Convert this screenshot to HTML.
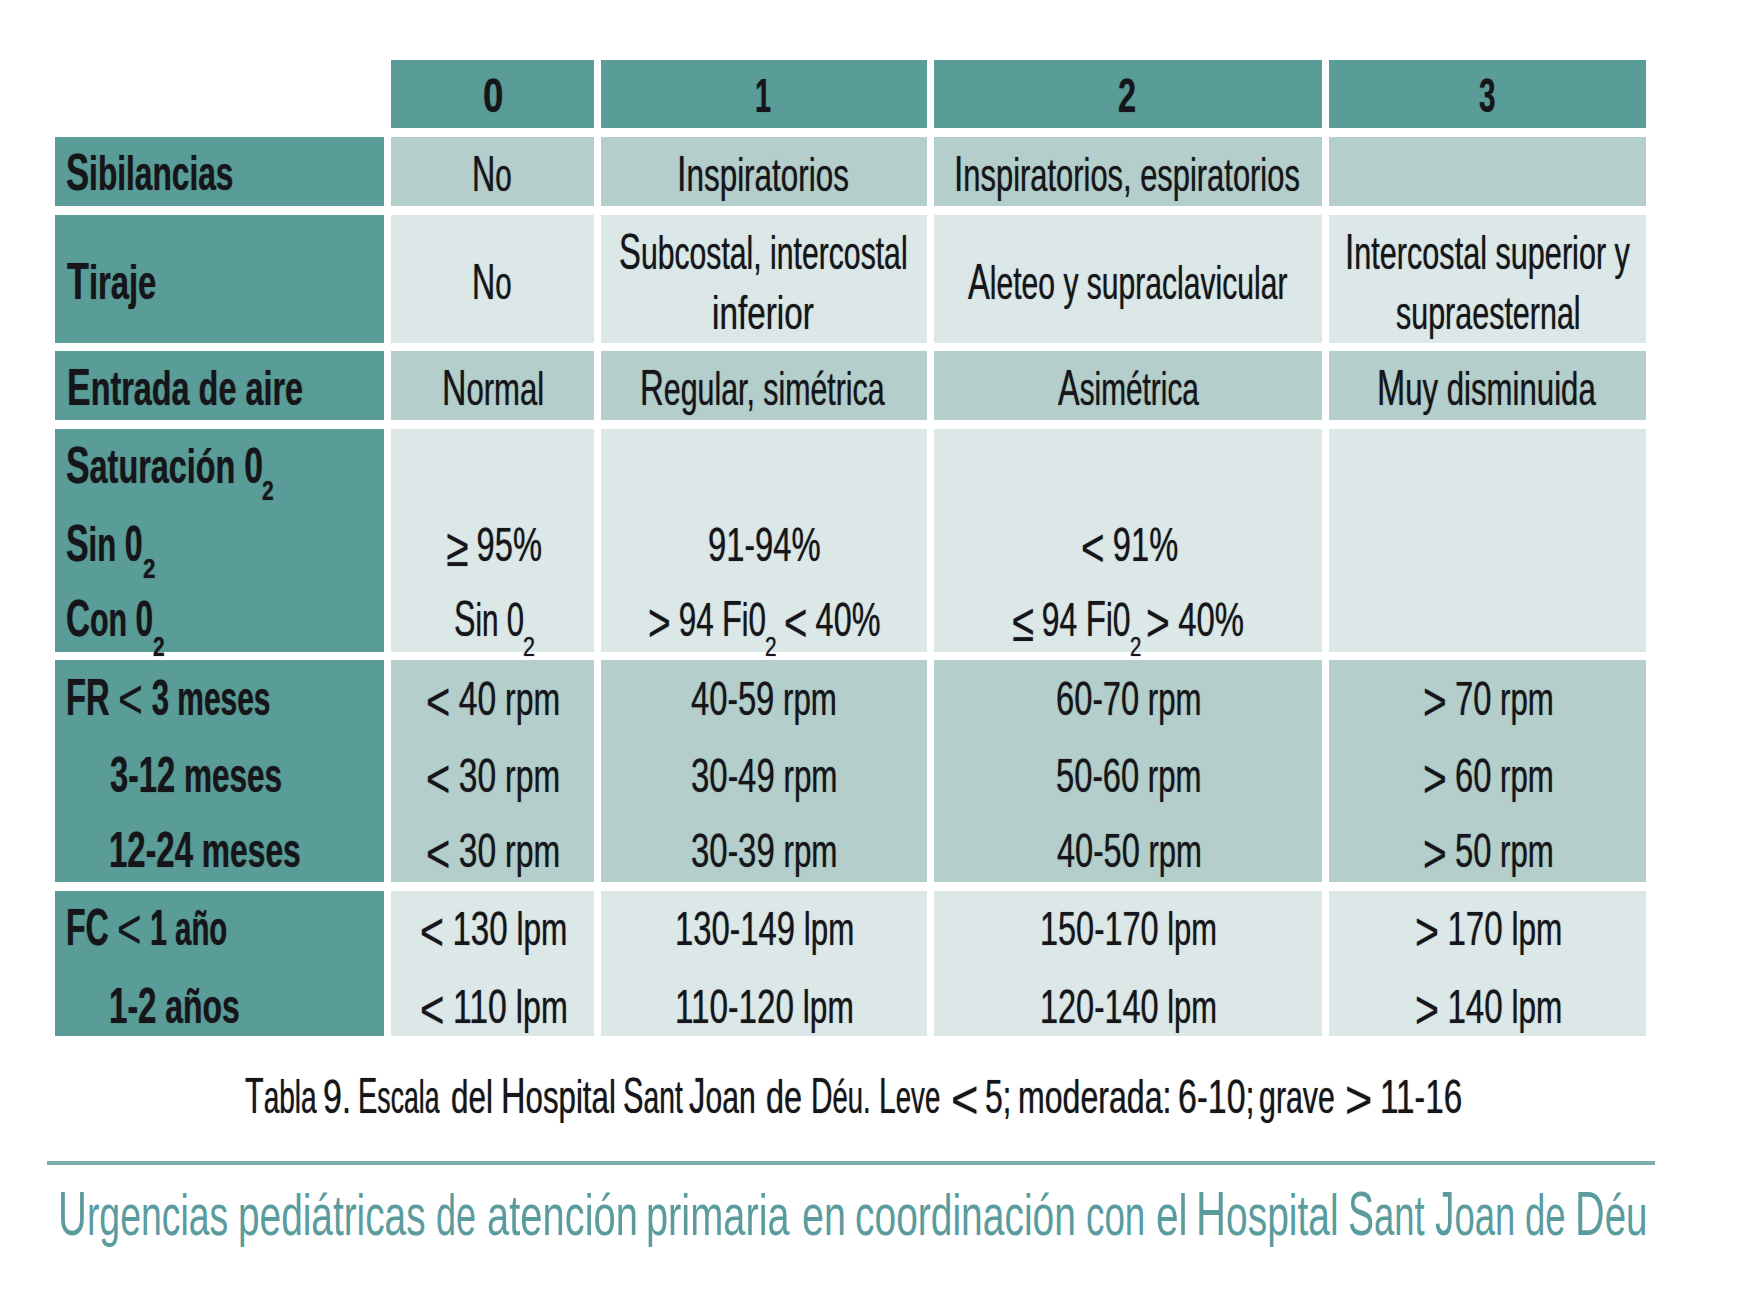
<!DOCTYPE html>
<html lang="es">
<head>
<meta charset="utf-8">
<title>Tabla 9. Escala del Hospital Sant Joan de Déu</title>
<style>
html,body{margin:0;padding:0;background:#fff;}
body{position:relative;overflow:hidden;font-family:"Liberation Sans",sans-serif;color:#15151a;}
.c{position:absolute;}
main,section,footer,p{margin:0;padding:0;display:block;position:static;}
.t{position:absolute;white-space:pre;transform-origin:0 0;line-height:60px;display:block;}
.u{font-size:1.088em;}
.d{font-size:1.05em;}
.s{display:inline-block;font-size:1.16em;transform:scaleX(1.12);margin:0 .03em;vertical-align:-0.084em;line-height:1;}
.b .u{font-size:1.094em;}
.b .d{font-size:1.04em;}
.b .s{font-weight:400;font-size:1.17em;transform:scaleX(1.22);margin:0 .07em;vertical-align:-0.05em;}
.t{text-shadow:0 0 1.3px rgba(21,21,26,.6);}
.foot{text-shadow:none;}
.foot .u{font-size:1.07em;}
.r{font-weight:400;font-size:46.3px;}
.b{font-weight:700;font-size:47.5px;}
.h{font-weight:700;font-size:47.6px;}
.rs{font-weight:400;font-size:28px;}
.bs{font-weight:700;font-size:28px;}
.cap{font-weight:400;font-size:46.3px;}
.foot{font-weight:400;font-size:58px;color:#5a9c9e;}
body{width:1742px;height:1308px;}
.rule{position:absolute;left:47.3px;top:1160.7px;width:1608.0px;height:4.2px;background:#7dadaa;}

</style>
</head>
<body>
<main>
<section class="tbl">
<div class="c" style="left:391.2px;top:60px;width:203.1px;height:67.7px;background:#5a9d98"></div>
<div class="c" style="left:601px;top:60px;width:326px;height:67.7px;background:#5a9d98"></div>
<div class="c" style="left:934.3px;top:60px;width:387.7px;height:67.7px;background:#5a9d98"></div>
<div class="c" style="left:1329.3px;top:60px;width:317.0px;height:67.7px;background:#5a9d98"></div>
<div class="c" style="left:55px;top:137.2px;width:329px;height:68.8px;background:#5a9d98"></div>
<div class="c" style="left:391.2px;top:137.2px;width:203.1px;height:68.8px;background:#b4cecb"></div>
<div class="c" style="left:601px;top:137.2px;width:326px;height:68.8px;background:#b4cecb"></div>
<div class="c" style="left:934.3px;top:137.2px;width:387.7px;height:68.8px;background:#b4cecb"></div>
<div class="c" style="left:1329.3px;top:137.2px;width:317.0px;height:68.8px;background:#b4cecb"></div>
<div class="c" style="left:55px;top:215px;width:329px;height:127.7px;background:#5a9d98"></div>
<div class="c" style="left:391.2px;top:215px;width:203.1px;height:127.7px;background:#dce8e7"></div>
<div class="c" style="left:601px;top:215px;width:326px;height:127.7px;background:#dce8e7"></div>
<div class="c" style="left:934.3px;top:215px;width:387.7px;height:127.7px;background:#dce8e7"></div>
<div class="c" style="left:1329.3px;top:215px;width:317.0px;height:127.7px;background:#dce8e7"></div>
<div class="c" style="left:55px;top:351px;width:329px;height:69px;background:#5a9d98"></div>
<div class="c" style="left:391.2px;top:351px;width:203.1px;height:69px;background:#b4cecb"></div>
<div class="c" style="left:601px;top:351px;width:326px;height:69px;background:#b4cecb"></div>
<div class="c" style="left:934.3px;top:351px;width:387.7px;height:69px;background:#b4cecb"></div>
<div class="c" style="left:1329.3px;top:351px;width:317.0px;height:69px;background:#b4cecb"></div>
<div class="c" style="left:55px;top:428.7px;width:329px;height:223.3px;background:#5a9d98"></div>
<div class="c" style="left:391.2px;top:428.7px;width:203.1px;height:223.3px;background:#dce8e7"></div>
<div class="c" style="left:601px;top:428.7px;width:326px;height:223.3px;background:#dce8e7"></div>
<div class="c" style="left:934.3px;top:428.7px;width:387.7px;height:223.3px;background:#dce8e7"></div>
<div class="c" style="left:1329.3px;top:428.7px;width:317.0px;height:223.3px;background:#dce8e7"></div>
<div class="c" style="left:55px;top:660px;width:329px;height:221.7px;background:#5a9d98"></div>
<div class="c" style="left:391.2px;top:660px;width:203.1px;height:221.7px;background:#b4cecb"></div>
<div class="c" style="left:601px;top:660px;width:326px;height:221.7px;background:#b4cecb"></div>
<div class="c" style="left:934.3px;top:660px;width:387.7px;height:221.7px;background:#b4cecb"></div>
<div class="c" style="left:1329.3px;top:660px;width:317.0px;height:221.7px;background:#b4cecb"></div>
<div class="c" style="left:55px;top:891px;width:329px;height:144.7px;background:#5a9d98"></div>
<div class="c" style="left:391.2px;top:891px;width:203.1px;height:144.7px;background:#dce8e7"></div>
<div class="c" style="left:601px;top:891px;width:326px;height:144.7px;background:#dce8e7"></div>
<div class="c" style="left:934.3px;top:891px;width:387.7px;height:144.7px;background:#dce8e7"></div>
<div class="c" style="left:1329.3px;top:891px;width:317.0px;height:144.7px;background:#dce8e7"></div>
<span class="t h" style="left:482.76px;top:66.00px;transform:scaleX(0.7696)">0</span>
<span class="t h" style="left:754.89px;top:66.00px;transform:scaleX(0.6045)">1</span>
<span class="t h" style="left:1117.93px;top:66.00px;transform:scaleX(0.6826)">2</span>
<span class="t h" style="left:1479.38px;top:66.00px;transform:scaleX(0.6250)">3</span>
<span class="t b" style="left:65.97px;top:142.00px;transform:scaleX(0.6668)"><span class="u">S</span>ibilancias</span>
<span class="t b" style="left:66.80px;top:251.00px;transform:scaleX(0.6891)"><span class="u">T</span>iraje</span>
<span class="t b" style="left:66.55px;top:357.00px;transform:scaleX(0.6819)"><span class="u">E</span>ntrada de aire</span>
<span class="t b" style="left:65.94px;top:435.00px;transform:scaleX(0.6814)"><span class="u">S</span>aturación <span class="d">0</span></span>
<span class="t bs" style="left:261.95px;top:461.00px;transform:scaleX(0.7500)">2</span>
<span class="t b" style="left:65.99px;top:513.00px;transform:scaleX(0.6526)"><span class="u">S</span>in <span class="d">0</span></span>
<span class="t bs" style="left:143.00px;top:539.00px;transform:scaleX(0.8000)">2</span>
<span class="t b" style="left:66.02px;top:588.00px;transform:scaleX(0.6394)"><span class="u">C</span>on <span class="d">0</span></span>
<span class="t bs" style="left:152.75px;top:617.00px;transform:scaleX(0.7500)">2</span>
<span class="t b" style="left:66.41px;top:667.00px;transform:scaleX(0.6303)"><span class="u">FR</span> <span class="s">&lt;</span> <span class="d">3</span> meses</span>
<span class="t b" style="left:109.64px;top:745.00px;transform:scaleX(0.6630)"><span class="d">3</span>-<span class="d">12</span> meses</span>
<span class="t b" style="left:108.89px;top:820.00px;transform:scaleX(0.6684)"><span class="d">12</span>-<span class="d">24</span> meses</span>
<span class="t b" style="left:66.45px;top:897.00px;transform:scaleX(0.6180)"><span class="u">FC</span> <span class="s">&lt;</span> <span class="d">1</span> año</span>
<span class="t b" style="left:108.69px;top:976.00px;transform:scaleX(0.6711)"><span class="d">1</span>-<span class="d">2</span> años</span>
<span class="t r" style="left:472.14px;top:144.00px;transform:scaleX(0.6393)"><span class="u">N</span>o</span>
<span class="t r" style="left:677.31px;top:144.00px;transform:scaleX(0.6785)"><span class="u">I</span>nspiratorios</span>
<span class="t r" style="left:954.36px;top:144.00px;transform:scaleX(0.6672)"><span class="u">I</span>nspiratorios, espiratorios</span>
<span class="t r" style="left:472.45px;top:252.00px;transform:scaleX(0.6375)"><span class="u">N</span>o</span>
<span class="t r" style="left:619.20px;top:222.00px;transform:scaleX(0.6518)"><span class="u">S</span>ubcostal, intercostal</span>
<span class="t r" style="left:712.24px;top:283.00px;transform:scaleX(0.7188)">inferior</span>
<span class="t r" style="left:968.30px;top:252.00px;transform:scaleX(0.6497)"><span class="u">A</span>leteo y supraclavicular</span>
<span class="t r" style="left:1344.99px;top:222.00px;transform:scaleX(0.6613)"><span class="u">I</span>ntercostal superior y</span>
<span class="t r" style="left:1396.04px;top:283.00px;transform:scaleX(0.6581)">supraesternal</span>
<span class="t r" style="left:441.61px;top:358.00px;transform:scaleX(0.6717)"><span class="u">N</span>ormal</span>
<span class="t r" style="left:640.08px;top:358.00px;transform:scaleX(0.6549)"><span class="u">R</span>egular, simétrica</span>
<span class="t r" style="left:1058.30px;top:358.00px;transform:scaleX(0.6438)"><span class="u">A</span>simétrica</span>
<span class="t r" style="left:1377.31px;top:358.00px;transform:scaleX(0.6729)"><span class="u">M</span>uy disminuida</span>
<span class="t r" style="left:445.96px;top:514.00px;transform:scaleX(0.6719)"><span class="s">≥</span> <span class="d">95%</span></span>
<span class="t r" style="left:453.72px;top:589.00px;transform:scaleX(0.6387)"><span class="u">S</span>in <span class="d">0</span></span>
<span class="t rs" style="left:522.53px;top:617.00px;transform:scaleX(0.7692)">2</span>
<span class="t r" style="left:707.95px;top:514.00px;transform:scaleX(0.6748)"><span class="d">91</span>-<span class="d">94%</span></span>
<span class="t r" style="left:648.06px;top:589.00px;transform:scaleX(0.6461)"><span class="s">&gt;</span> <span class="d">94</span> <span class="u">F</span>i<span class="d">0</span></span>
<span class="t rs" style="left:765.25px;top:617.00px;transform:scaleX(0.7462)">2</span>
<span class="t r" style="left:784.00px;top:589.00px;transform:scaleX(0.6664)"><span class="s">&lt;</span> <span class="d">40%</span></span>
<span class="t r" style="left:1080.69px;top:514.00px;transform:scaleX(0.6714)"><span class="s">&lt;</span> <span class="d">91%</span></span>
<span class="t r" style="left:1012.19px;top:589.00px;transform:scaleX(0.6554)"><span class="s">≤</span> <span class="d">94</span> <span class="u">F</span>i<span class="d">0</span></span>
<span class="t rs" style="left:1130.27px;top:617.00px;transform:scaleX(0.7308)">2</span>
<span class="t r" style="left:1146.47px;top:589.00px;transform:scaleX(0.6771)"><span class="s">&gt;</span> <span class="d">40%</span></span>
<span class="t r" style="left:426.23px;top:668.00px;transform:scaleX(0.6915)"><span class="s">&lt;</span> <span class="d">40</span> rpm</span>
<span class="t r" style="left:426.23px;top:745.00px;transform:scaleX(0.6915)"><span class="s">&lt;</span> <span class="d">30</span> rpm</span>
<span class="t r" style="left:426.23px;top:820.00px;transform:scaleX(0.6915)"><span class="s">&lt;</span> <span class="d">30</span> rpm</span>
<span class="t r" style="left:691.33px;top:668.00px;transform:scaleX(0.6745)"><span class="d">40</span>-<span class="d">59</span> rpm</span>
<span class="t r" style="left:690.64px;top:745.00px;transform:scaleX(0.6777)"><span class="d">30</span>-<span class="d">49</span> rpm</span>
<span class="t r" style="left:690.64px;top:820.00px;transform:scaleX(0.6777)"><span class="d">30</span>-<span class="d">39</span> rpm</span>
<span class="t r" style="left:1055.95px;top:668.00px;transform:scaleX(0.6730)"><span class="d">60</span>-<span class="d">70</span> rpm</span>
<span class="t r" style="left:1055.95px;top:745.00px;transform:scaleX(0.6730)"><span class="d">50</span>-<span class="d">60</span> rpm</span>
<span class="t r" style="left:1056.63px;top:820.00px;transform:scaleX(0.6698)"><span class="d">40</span>-<span class="d">50</span> rpm</span>
<span class="t r" style="left:1422.98px;top:668.00px;transform:scaleX(0.6739)"><span class="s">&gt;</span> <span class="d">70</span> rpm</span>
<span class="t r" style="left:1422.98px;top:745.00px;transform:scaleX(0.6739)"><span class="s">&gt;</span> <span class="d">60</span> rpm</span>
<span class="t r" style="left:1422.98px;top:820.00px;transform:scaleX(0.6739)"><span class="s">&gt;</span> <span class="d">50</span> rpm</span>
<span class="t r" style="left:419.65px;top:898.00px;transform:scaleX(0.6824)"><span class="s">&lt;</span> <span class="d">130</span> lpm</span>
<span class="t r" style="left:419.61px;top:976.00px;transform:scaleX(0.6956)"><span class="s">&lt;</span> <span class="d">110</span> lpm</span>
<span class="t r" style="left:674.60px;top:898.00px;transform:scaleX(0.6760)"><span class="d">130</span>-<span class="d">149</span> lpm</span>
<span class="t r" style="left:674.56px;top:976.00px;transform:scaleX(0.6839)"><span class="d">110</span>-<span class="d">120</span> lpm</span>
<span class="t r" style="left:1040.03px;top:898.00px;transform:scaleX(0.6678)"><span class="d">150</span>-<span class="d">170</span> lpm</span>
<span class="t r" style="left:1040.03px;top:976.00px;transform:scaleX(0.6678)"><span class="d">120</span>-<span class="d">140</span> lpm</span>
<span class="t r" style="left:1414.65px;top:898.00px;transform:scaleX(0.6824)"><span class="s">&gt;</span> <span class="d">170</span> lpm</span>
<span class="t r" style="left:1414.65px;top:976.00px;transform:scaleX(0.6824)"><span class="s">&gt;</span> <span class="d">140</span> lpm</span>
</section>
<p class="caption">
<span class="t cap" style="left:244.59px;top:1066.00px;transform:scaleX(0.6060)"><span class="u">T</span>abla </span>
<span class="t cap" style="left:323.40px;top:1066.00px;transform:scaleX(0.7000)"><span class="d">9</span>. </span>
<span class="t cap" style="left:357.62px;top:1066.00px;transform:scaleX(0.5750)"><span class="u">E</span>scala </span>
<span class="t cap" style="left:451.04px;top:1067.00px;transform:scaleX(0.6789)">del </span>
<span class="t cap" style="left:501.40px;top:1066.00px;transform:scaleX(0.6748)"><span class="u">H</span>ospital </span>
<span class="t cap" style="left:622.98px;top:1066.00px;transform:scaleX(0.6104)"><span class="u">S</span>ant </span>
<span class="t cap" style="left:689.35px;top:1066.00px;transform:scaleX(0.6505)"><span class="u">J</span>oan </span>
<span class="t cap" style="left:766.40px;top:1067.00px;transform:scaleX(0.7000)">de </span>
<span class="t cap" style="left:810.63px;top:1066.00px;transform:scaleX(0.5925)"><span class="u">D</span>éu. </span>
<span class="t cap" style="left:879.41px;top:1066.00px;transform:scaleX(0.5969)"><span class="u">L</span>eve </span>
<span class="t cap" style="left:950.74px;top:1067.00px;transform:scaleX(0.7862)"><span class="s">&lt;</span> </span>
<span class="t cap" style="left:985.38px;top:1066.00px;transform:scaleX(0.6588)"><span class="d">5</span>; </span>
<span class="t cap" style="left:1017.92px;top:1067.00px;transform:scaleX(0.6930)">moderada: </span>
<span class="t cap" style="left:1177.80px;top:1066.00px;transform:scaleX(0.7000)"><span class="d">6</span>-<span class="d">10</span>; </span>
<span class="t cap" style="left:1259.19px;top:1067.00px;transform:scaleX(0.6554)">grave </span>
<span class="t cap" style="left:1344.95px;top:1067.00px;transform:scaleX(0.7828)"><span class="s">&gt;</span> </span>
<span class="t cap" style="left:1379.66px;top:1066.00px;transform:scaleX(0.6851)"><span class="d">11</span>-<span class="d">16</span></span>
</p>
</main>
<footer>
<div class="rule"></div>
<p class="running">
<span class="t foot" style="left:57.88px;top:1184.00px;transform:scaleX(0.6447)"><span class="u">U</span>rgencias </span>
<span class="t foot" style="left:238.33px;top:1185.00px;transform:scaleX(0.6686)">pediátricas </span>
<span class="t foot" style="left:435.96px;top:1185.00px;transform:scaleX(0.6200)">de </span>
<span class="t foot" style="left:486.74px;top:1185.00px;transform:scaleX(0.6882)">atención </span>
<span class="t foot" style="left:646.16px;top:1185.00px;transform:scaleX(0.6854)">primaria </span>
<span class="t foot" style="left:801.66px;top:1185.00px;transform:scaleX(0.6793)">en </span>
<span class="t foot" style="left:855.38px;top:1185.00px;transform:scaleX(0.6717)">coordinación </span>
<span class="t foot" style="left:1086.00px;top:1185.00px;transform:scaleX(0.6345)">con </span>
<span class="t foot" style="left:1155.50px;top:1185.00px;transform:scaleX(0.7000)">el </span>
<span class="t foot" style="left:1196.45px;top:1184.00px;transform:scaleX(0.6709)"><span class="u">H</span>ospital </span>
<span class="t foot" style="left:1348.12px;top:1184.00px;transform:scaleX(0.6277)"><span class="u">S</span>ant </span>
<span class="t foot" style="left:1435.17px;top:1184.00px;transform:scaleX(0.6285)"><span class="u">J</span>oan </span>
<span class="t foot" style="left:1524.54px;top:1185.00px;transform:scaleX(0.6300)">de </span>
<span class="t foot" style="left:1574.59px;top:1184.00px;transform:scaleX(0.6630)"><span class="u">D</span>éu</span>
</p>
</footer>
</body>
</html>
